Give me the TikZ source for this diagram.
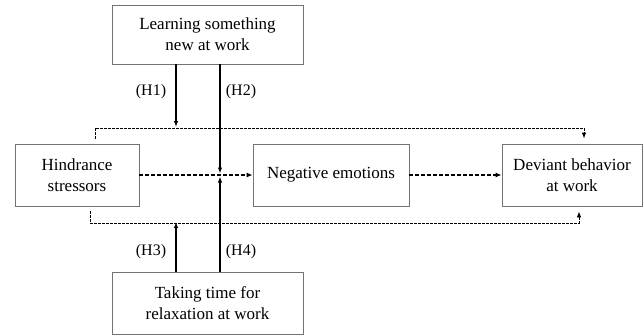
\documentclass[tikz,border=0pt]{standalone}
\usepackage{fontspec}
\setmainfont{Liberation Serif}
\newfontfamily\tnr{Liberation Serif}
\usetikzlibrary{arrows.meta,calc}
\begin{document}
\begin{tikzpicture}[x=1pt,y=-1pt,
  box/.style={draw=black!55,line width=0.8pt,align=center,font=\tnr\fontsize{17}{21}\selectfont,inner sep=0pt},
  solidarrow/.style={line width=1.5pt,-{Latex[length=6pt,width=4.5pt]}},
  dasharrow/.style={line width=1.3pt,dash pattern=on 4pt off 2pt,-{Latex[length=6pt,width=5pt]}},
  thindash/.style={line width=0.8pt,dash pattern=on 2.5pt off 1.5pt},
  hlabel/.style={font=\tnr\fontsize{16}{19}\selectfont,inner sep=0pt}]
\useasboundingbox (0,0) rectangle (644,335);
\node[box,minimum width=191pt,minimum height=59pt] (top) at (207.5,34.5) {Learning something\\new at work};
\node[box,minimum width=191pt,minimum height=62pt] (bot) at (207.5,303) {Taking time for\\relaxation at work};
\node[box,minimum width=124pt,minimum height=62pt] (hind) at (77,175) {Hindrance\\stressors};
\node[box,minimum width=156pt,minimum height=62pt] (neg) at (331,175) {Negative emotions};
\node[box,minimum width=140pt,minimum height=62pt] (dev) at (572,175) {Deviant behavior\\at work};
\coordinate (h1) at (176,127);
\coordinate (h3) at (176,222);
\coordinate (mid) at (220,175);
\coordinate (tl) at (95,128);
\coordinate (tr) at (584,128);
\coordinate (bl) at (90,223);
\coordinate (br) at (579,223);
% dashed main path
\draw[dasharrow] (hind.east) -- (neg.west);
\draw[dasharrow] (neg.east) -- (dev.west);
% moderating dashed paths
\draw[thindash,-{Latex[length=6pt,width=4.5pt]},shorten >=5pt] ($(tl |- hind.north)+(0,-5)$) -- (tl) -- (tr) -- (tr |- dev.north);
\draw[thindash,-{Latex[length=6pt,width=4.5pt]},shorten >=5pt] ($(bl |- hind.south)+(0,5)$) -- (bl) -- (br) -- (br |- dev.south);
% solid arrows
\draw[solidarrow] (h1 |- top.south) -- (h1);
\draw[solidarrow] (h3 |- bot.north) -- (h3);
\draw[solidarrow,shorten >=1.5pt] (mid |- top.south) -- (mid);
\draw[solidarrow,shorten >=1.5pt] (mid |- bot.north) -- (mid);
% labels
\node[hlabel] (l1) at (151,92) {(H1)};
\node[hlabel] (l2) at (241,92) {(H2)};
\node[hlabel] (l3) at (151,252) {(H3)};
\node[hlabel] (l4) at (241,252) {(H4)};
\end{tikzpicture}
\end{document}
